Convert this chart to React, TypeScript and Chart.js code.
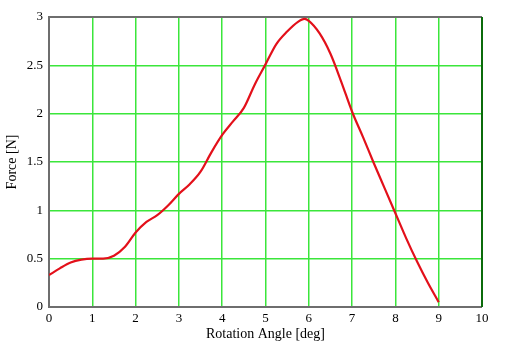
import React, { useEffect, useRef } from "react";
import { Chart, registerables } from "chart.js";

Chart.register(...registerables);

const angles = [0, 0.25, 0.5, 0.75, 1.0, 1.25, 1.5, 1.75, 2.0, 2.25, 2.5, 2.75, 3.0, 3.25, 3.5, 3.75, 4.0, 4.25, 4.5, 4.75, 5.0, 5.25, 5.5, 5.75, 5.9, 6.0, 6.25, 6.5, 6.75, 7.0, 7.25, 7.5, 7.75, 8.0, 8.25, 8.5, 8.75, 9.0];
const forces = [0.33, 0.40, 0.46, 0.49, 0.50, 0.50, 0.53, 0.62, 0.77, 0.88, 0.95, 1.05, 1.17, 1.27, 1.40, 1.60, 1.78, 1.92, 2.06, 2.30, 2.51, 2.72, 2.85, 2.95, 2.98, 2.96, 2.83, 2.62, 2.33, 2.02, 1.76, 1.49, 1.23, 0.97, 0.71, 0.47, 0.25, 0.05];

const xTitle = "Rotation Angle [deg]";
const yTitle = "Force [N]";

const frame = {
  id: "frame",
  beforeDatasetsDraw(chart: any) {
    const { ctx, chartArea } = chart;
    const { left, right, top, bottom } = chartArea;
    ctx.save();
    ctx.lineWidth = 2;
    ctx.strokeStyle = "#6e6e6e";
    ctx.beginPath();
    ctx.moveTo(right, top);
    ctx.lineTo(left, top);
    ctx.lineTo(left, bottom);
    ctx.lineTo(right, bottom);
    ctx.stroke();
    ctx.strokeStyle = "#0b6b0b";
    ctx.beginPath();
    ctx.moveTo(right, top);
    ctx.lineTo(right, bottom);
    ctx.stroke();
    ctx.restore();
  },
};

export default function App() {
  const ref = useRef<HTMLCanvasElement>(null);
  useEffect(() => {
    document.body.style.margin = "0";
    const font = { family: "'Liberation Serif', 'Times New Roman', serif", size: 13 };
    const chart = new Chart(ref.current!, {
      type: "line",
      data: {
        datasets: [
          {
            data: angles.map((a, i) => ({ x: a, y: forces[i] })),
            borderColor: "#e3101a",
            borderWidth: 2.2,
            pointRadius: 0,
            cubicInterpolationMode: "monotone",
            fill: false,
          },
        ],
      },
      options: {
        animation: false,
        responsive: false,
        maintainAspectRatio: false,
        layout: { padding: { left: 0, right: 45, top: 17, bottom: 0 } },
        plugins: { legend: { display: false }, tooltip: { enabled: false } },
        scales: {
          x: {
            type: "linear",
            min: 0,
            max: 10,
            afterFit: (s: any) => { s.height = 46; },
            ticks: { stepSize: 1, color: "#000", font, padding: 4, callback: (v: any) => String(v) },
            grid: { color: "#3be63b", lineWidth: 1.5, drawTicks: false },
            border: { display: false },
            title: { display: true, text: xTitle, color: "#000", font: { ...font, size: 14 }, padding: { top: 0, bottom: 10 } },
          },
          y: {
            type: "linear",
            min: 0,
            max: 3,
            afterFit: (s: any) => { s.width = 49; },
            ticks: { stepSize: 0.5, color: "#000", font, padding: 6, callback: (v: any) => String(v) },
            grid: { color: "#3be63b", lineWidth: 1.5, drawTicks: false },
            border: { display: false },
            title: { display: true, text: yTitle, color: "#000", font: { ...font, size: 14 }, padding: { top: 4, bottom: 0 } },
          },
        },
      },
      plugins: [frame],
    } as any);
    return () => chart.destroy();
  }, []);
  return (
    <div style={{ width: 527, height: 353 }}>
      <canvas ref={ref} width={527} height={353} style={{ display: "block" }} />
    </div>
  );
}
